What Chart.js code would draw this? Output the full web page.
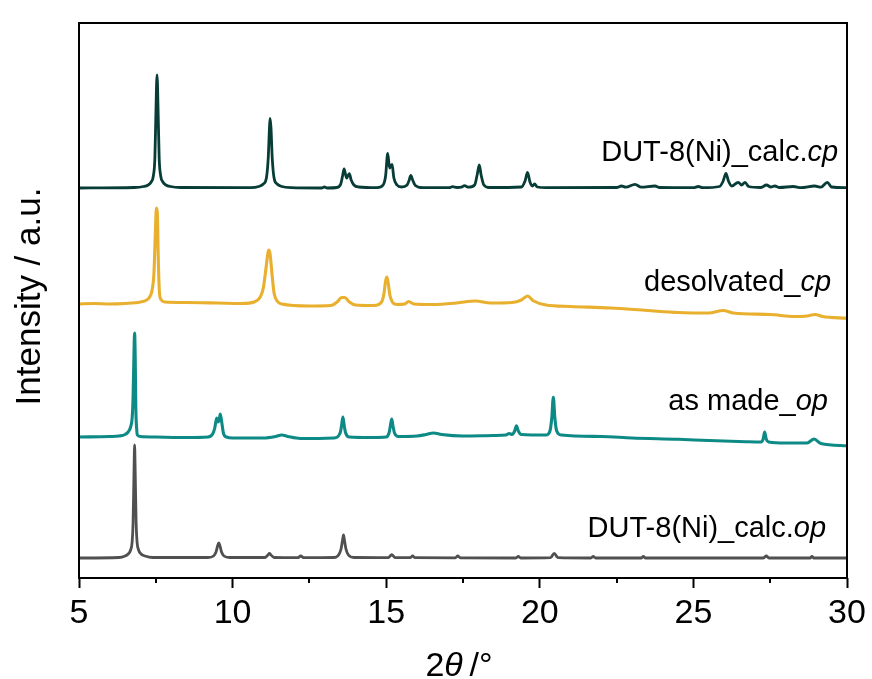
<!DOCTYPE html>
<html>
<head>
<meta charset="utf-8">
<script src="https://cdn.jsdelivr.net/npm/chart.js@4.4.1/dist/chart.umd.min.js"></script>
<style>
  html, body { margin: 0; padding: 0; background: #ffffff; }
  #wrap { width: 872px; height: 679px; }
</style>
</head>
<body>
<div id="wrap"><canvas id="c" width="872" height="679"></canvas></div>
<script>
// ---------------- data (2θ in degrees, intensity in a.u., traces stacked) ----------------
const calcOpTheta = [5.0, 6.3, 6.5, 6.6, 6.68, 6.73, 6.76, 6.79, 6.81, 6.83, 6.86, 6.89, 6.94, 7.02, 7.15, 7.4,
  9.2, 9.38, 9.46, 9.51, 9.55, 9.59, 9.64, 9.72, 9.9,
  11.05, 11.15, 11.2, 11.25, 11.35, 12.12, 12.22, 12.32,
  13.3, 13.45, 13.53, 13.58, 13.61, 13.64, 13.69, 13.77, 13.95,
  15.07, 15.18, 15.29, 15.78, 15.86, 15.94, 17.25, 17.33, 17.41,
  19.22, 19.3, 19.38, 20.35, 20.47, 20.59, 21.66, 21.74, 21.82,
  23.3, 23.37, 23.44, 27.28, 27.37, 27.46, 28.8, 28.86, 28.92, 30.0];
const calcOpInt = [20, 20.5, 22, 24, 28, 36, 55, 105, 133, 105, 55, 36, 28, 24, 22, 20.5,
  20.5, 22, 26, 32, 35, 32, 26, 22, 20.5,
  20.5, 23, 24.5, 23, 20.5, 20.3, 22, 20.3,
  20.5, 23, 29, 38, 43, 38, 29, 23, 20.5,
  20.4, 23.3, 20.4, 20.3, 22, 20.3, 20.2, 22, 20.2,
  20, 21.5, 20, 20.3, 24.7, 20.3, 20, 21.5, 20,
  20, 21.5, 20, 20, 22, 20, 20, 21.5, 20, 20];

const asMadeTheta = [5.0, 6.0, 6.3, 6.5, 6.6, 6.68, 6.73, 6.76, 6.79, 6.81, 6.83, 6.85, 6.88, 6.9, 7.0, 7.5, 8.5,
  9.2, 9.35, 9.42, 9.48, 9.52, 9.56, 9.6, 9.65, 9.7, 9.8, 10.0, 11.0, 11.4, 11.6, 11.8, 12.2,
  13.3, 13.5, 13.55, 13.59, 13.63, 13.68, 13.8, 14.5, 15.0, 15.1, 15.14, 15.18, 15.22, 15.27, 15.4,
  16.0, 16.3, 16.54, 16.8, 17.5, 18.5, 18.9, 19.0, 19.1, 19.18, 19.24, 19.3, 19.4,
  20.2, 20.33, 20.39, 20.44, 20.49, 20.55, 20.7, 22.0, 23.0, 24.5, 25.5, 26.7,
  27.2, 27.27, 27.32, 27.37, 27.45, 28.0, 28.7, 28.93, 29.15, 30.0];
const asMadeInt = [141, 141.5, 142, 143.5, 146, 151, 160, 180, 225, 245, 220, 170, 148, 143, 141.5, 141, 140.5,
  141, 144, 150, 160, 156, 158, 164, 155, 145, 141, 140, 140, 141.5, 143, 141.5, 139.5,
  140, 145, 153, 161, 153, 145, 141, 140.5, 141, 146, 153, 159, 152, 145, 141.5,
  142, 143.5, 145, 143.5, 142, 142.5, 143, 144.5, 143.5, 147, 152.3, 147, 143.5,
  143, 147, 160, 180.7, 160, 147, 143, 141.5, 140, 138.7, 137.5, 136.3,
  136, 139, 146, 139, 136, 135, 135, 139, 134.5, 132.3];

const desolvTheta = [5.0, 5.5, 6.0, 6.5, 7.0, 7.2, 7.3, 7.38, 7.44, 7.48, 7.52, 7.55, 7.58, 7.62, 7.68, 7.8,
  8.5, 9.5, 10.3, 10.7, 10.9, 11.0, 11.08, 11.15, 11.18, 11.22, 11.28, 11.35, 11.45, 11.6,
  12.5, 13.2, 13.4, 13.55, 13.65, 13.8, 14.0, 14.6, 14.85, 14.93, 14.98, 15.02, 15.06, 15.12, 15.2, 15.35,
  15.6, 15.73, 15.9, 16.5, 17.3, 17.9, 18.4, 19.1, 19.4, 19.6, 19.8, 20.2, 21.0, 22.3, 23.5, 24.5,
  25.5, 25.97, 26.3, 27.5, 28.3, 28.7, 28.96, 29.2, 30.0];
const desolvInt = [274, 274.5, 274, 274.5, 276, 278, 281, 288, 305, 340, 370, 365, 320, 285, 278, 276,
  275.5, 275, 274.5, 276, 281, 290, 308, 325, 328, 324, 305, 285, 277, 274,
  272, 272.5, 276, 280.5, 280.5, 276, 273, 272.5, 276, 285, 297, 301, 296, 283, 276, 273.5,
  274, 276.5, 274, 273.5, 275, 277, 275, 275.5, 278, 282, 277, 273, 271.5, 270, 267.5, 265.5,
  265, 267.5, 265, 263.5, 261.5, 262, 263.5, 261.5, 259.7];

const calcCpTheta = [5.0, 6.8, 7.1, 7.25, 7.35, 7.42, 7.47, 7.5, 7.54, 7.58, 7.61, 7.66, 7.73, 7.83, 7.98, 8.3,
  10.6, 10.85, 11.0, 11.1, 11.16, 11.2, 11.22, 11.25, 11.29, 11.35, 11.45, 11.6, 11.9,
  12.9, 12.99, 13.08, 13.4, 13.52, 13.58, 13.63, 13.71, 13.8, 13.86, 13.95, 14.1,
  14.7, 14.9, 14.98, 15.05, 15.11, 15.19, 15.25, 15.35, 15.5, 15.68, 15.75, 15.8, 15.86, 15.95, 16.2,
  17.05, 17.16, 17.3, 17.45, 17.55, 17.68, 17.88, 17.96, 18.03, 18.09, 18.18, 18.35,
  19.4, 19.52, 19.6, 19.68, 19.76, 19.83, 19.92, 20.2, 22.5, 22.66, 22.8, 23.1, 23.3, 23.75, 23.9,
  25.0, 25.16, 25.3, 25.85, 25.97, 26.06, 26.14, 26.25, 26.46, 26.57, 26.68, 26.8,
  27.2, 27.38, 27.52, 27.65, 27.8, 28.25, 28.5, 28.95, 29.15, 29.36, 29.5, 30.0];
const calcCpInt = [390, 390.5, 391.5, 393, 396, 402, 420, 460, 503, 460, 420, 402, 396, 393, 391.5, 390.5,
  390.3, 391.5, 394, 400, 420, 450, 459.7, 450, 420, 400, 394, 391.5, 390.3,
  390, 391, 390, 390.5, 394, 402, 409, 400, 404.3, 398, 393, 391,
  390.3, 393, 402, 424.7, 410, 413.7, 400, 393, 391, 393, 398, 402.7, 398, 392.5, 390.3,
  390.3, 391.3, 390.5, 390.8, 392.3, 390.8, 393, 403, 413, 403, 393, 390.5,
  391, 397, 405.7, 396, 392, 394, 391, 390.3, 390.5, 392, 390.8, 393.7, 390.8, 392, 390.5,
  390.3, 391.5, 390.3, 391.5, 397, 404.7, 397, 392, 395.7, 393, 395.7, 391.5,
  390.5, 393, 391, 392, 390.5, 391.5, 390.3, 392, 390.8, 395.7, 391, 390.3];

const majorTicks = [5, 10, 15, 20, 25, 30];
const minorTicks = [7.5, 12.5, 17.5, 22.5, 27.5];
const seriesNames = ['DUT-8(Ni)_calc.op', 'as made_op', 'desolvated_cp', 'DUT-8(Ni)_calc.cp'];

// ---------------- chart ----------------
const zip = (xs, ys) => xs.map((x, i) => ({ x: x, y: ys[i] }));
const FONT = "'Liberation Sans', Arial, Helvetica, sans-serif";

// label annotations: parts [text, italic], anchored at right edge (data coords)
const labelDefs = [
  { parts: [['DUT-8(Ni)_calc.', false], ['op', true]], x: 29.32, y: 41.3 },
  { parts: [['as made_', false], ['op', true]], x: 29.38, y: 168 },
  { parts: [['desolvated_', false], ['cp', true]], x: 29.48, y: 287.3 },
  { parts: [['DUT-8(Ni)_calc.', false], ['cp', true]], x: 29.71, y: 417.3 }
];

const decorPlugin = {
  id: 'decor',
  afterDatasetsDraw(chart) {
    const { ctx, chartArea: a, scales } = chart;
    const xs = scales.x, ys = scales.y;
    ctx.save();
    // frame
    ctx.strokeStyle = '#000';
    ctx.lineWidth = 2;
    ctx.strokeRect(a.left, a.top, a.right - a.left, a.bottom - a.top);
    // minor ticks
    ctx.lineWidth = 2;
    minorTicks.forEach(v => {
      const px = Math.round(xs.getPixelForValue(v));
      ctx.beginPath();
      ctx.moveTo(px, a.bottom);
      ctx.lineTo(px, a.bottom + 5);
      ctx.stroke();
    });
    // series labels
    ctx.fillStyle = '#000';
    ctx.textBaseline = 'alphabetic';
    ctx.textAlign = 'left';
    labelDefs.forEach(l => {
      let total = 0;
      l.parts.forEach(p => {
        ctx.font = (p[1] ? 'italic ' : '') + '29px ' + FONT;
        total += ctx.measureText(p[0]).width;
      });
      let x = xs.getPixelForValue(l.x) - total;
      const y = ys.getPixelForValue(l.y);
      l.parts.forEach(p => {
        ctx.font = (p[1] ? 'italic ' : '') + '29px ' + FONT;
        ctx.fillText(p[0], x, y);
        x += ctx.measureText(p[0]).width;
      });
    });
    // x axis title: 2θ/°
    const xParts = [['2', false], ['θ', true], ['\u2009/°', false]];
    let tw = 0;
    xParts.forEach(p => { ctx.font = (p[1] ? 'italic ' : '') + '34px ' + FONT; tw += ctx.measureText(p[0]).width; });
    let tx = (a.left + a.right) / 2 - 4 - tw / 2;
    const ty = chart.height - 3;
    xParts.forEach(p => {
      ctx.font = (p[1] ? 'italic ' : '') + '34px ' + FONT;
      ctx.fillText(p[0], tx, ty);
      tx += ctx.measureText(p[0]).width;
    });
    // y axis title
    ctx.save();
    ctx.translate(40, (a.top + a.bottom) / 2 - 4);
    ctx.rotate(-Math.PI / 2);
    ctx.textAlign = 'center';
    ctx.font = '35px ' + FONT;
    ctx.fillText('Intensity / a.u.', 0, 0);
    ctx.restore();
    ctx.restore();
  }
};

const mk = (label, xs, ys, color, w) => ({
  label: label,
  data: zip(xs, ys),
  borderColor: color,
  backgroundColor: color,
  borderWidth: w,
  pointRadius: 0,
  cubicInterpolationMode: 'monotone',
  fill: false
});

new Chart(document.getElementById('c'), {
  type: 'line',
  data: {
    datasets: [
      mk(seriesNames[0], calcOpTheta, calcOpInt, '#505050', 2.8),
      mk(seriesNames[1], asMadeTheta, asMadeInt, '#0e8a86', 3.1),
      mk(seriesNames[2], desolvTheta, desolvInt, '#e8b02e', 3.1),
      mk(seriesNames[3], calcCpTheta, calcCpInt, '#083c37', 2.8)
    ]
  },
  options: {
    responsive: false,
    animation: false,
    devicePixelRatio: 1,
    layout: { padding: { top: 23, right: 25, left: 0, bottom: 0 } },
    plugins: { legend: { display: false }, tooltip: { enabled: false }, title: { display: false } },
    scales: {
      x: {
        type: 'linear',
        min: 5, max: 30,
        afterBuildTicks: s => { s.ticks = majorTicks.map(v => ({ value: v })); },
        afterFit: s => { s.height = 101; },
        border: { display: false },
        grid: { display: true, drawOnChartArea: false, drawTicks: true, tickLength: 10, tickWidth: 2, tickColor: '#000' },
        ticks: { color: '#000', font: { family: FONT, size: 34 }, padding: 5, maxRotation: 0 }
      },
      y: {
        type: 'linear',
        min: 0, max: 555,
        afterFit: s => { s.width = 79; },
        border: { display: false },
        grid: { display: false },
        ticks: { display: false }
      }
    }
  },
  plugins: [decorPlugin]
});
</script>
</body>
</html>
